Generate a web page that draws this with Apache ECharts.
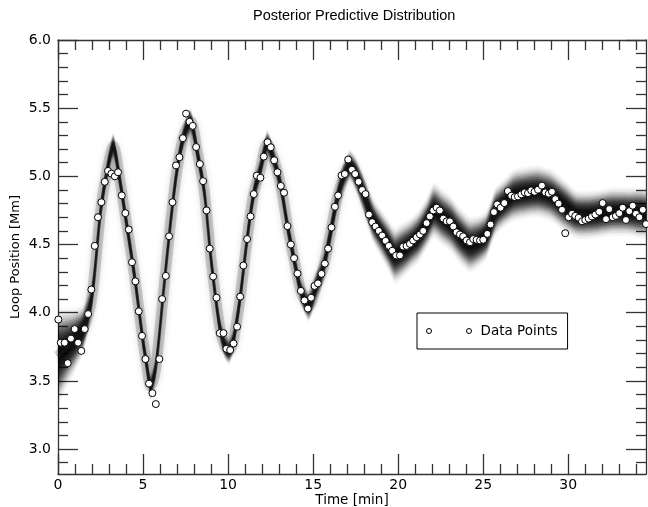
<!DOCTYPE html>
<html>
<head>
<meta charset="utf-8">
<script src="https://cdn.jsdelivr.net/npm/echarts@6/dist/echarts.min.js"></script>
<style>html,body{margin:0;padding:0;background:#fff}#c{width:648px;height:507px}</style>
</head>
<body>
<div id="c"></div>
<script>
// ---- observed data points ----
const dataTime = [0.02,0.16,0.39,0.57,0.76,0.98,1.18,1.37,1.57,1.77,1.96,2.16,2.35,2.55,2.75,2.94,3.14,3.34,3.53,3.75,3.96,4.16,4.35,4.55,4.75,4.94,5.14,5.35,5.55,5.75,5.96,6.12,6.34,6.53,6.73,6.94,7.14,7.34,7.53,7.73,7.92,8.12,8.34,8.53,8.73,8.92,9.12,9.32,9.51,9.73,9.90,10.12,10.32,10.53,10.71,10.90,11.12,11.32,11.51,11.69,11.90,12.10,12.32,12.51,12.71,12.90,13.10,13.29,13.49,13.69,13.88,14.08,14.28,14.49,14.69,14.88,15.08,15.28,15.49,15.69,15.88,16.08,16.28,16.47,16.67,16.86,17.06,17.28,17.47,17.67,17.88,18.08,18.28,18.47,18.67,18.86,19.06,19.26,19.45,19.65,19.88,20.10,20.29,20.49,20.69,20.88,21.08,21.28,21.47,21.67,21.86,22.06,22.26,22.45,22.65,22.85,23.04,23.24,23.43,23.63,23.82,24.02,24.22,24.41,24.61,24.81,25.00,25.24,25.43,25.63,25.82,26.02,26.24,26.45,26.65,26.85,27.04,27.24,27.44,27.63,27.82,28.02,28.22,28.45,28.65,28.85,29.04,29.24,29.43,29.63,29.82,30.02,30.22,30.41,30.61,30.81,31.00,31.20,31.39,31.59,31.82,32.02,32.22,32.41,32.61,32.80,33.00,33.20,33.39,33.59,33.79,33.98,34.18,34.38,34.57];
const dataPos = [3.95,3.78,3.78,3.63,3.81,3.88,3.78,3.72,3.88,3.99,4.17,4.49,4.70,4.81,4.96,5.04,5.02,5.00,5.03,4.86,4.73,4.61,4.37,4.23,4.01,3.83,3.66,3.48,3.41,3.33,3.66,4.10,4.27,4.56,4.81,5.08,5.14,5.28,5.46,5.40,5.37,5.215,5.09,4.965,4.75,4.47,4.265,4.11,3.85,3.85,3.735,3.726,3.774,3.897,4.118,4.346,4.54,4.706,4.87,5.005,4.99,5.145,5.25,5.213,5.118,5.03,4.93,4.88,4.635,4.50,4.40,4.287,4.16,4.09,4.03,4.11,4.196,4.215,4.285,4.36,4.47,4.625,4.777,4.86,5.007,5.017,5.123,5.049,5.017,4.96,4.90,4.87,4.72,4.664,4.632,4.60,4.566,4.527,4.49,4.454,4.42,4.42,4.485,4.49,4.505,4.53,4.554,4.574,4.60,4.657,4.706,4.75,4.77,4.75,4.69,4.67,4.67,4.632,4.59,4.574,4.56,4.53,4.517,4.54,4.535,4.53,4.535,4.578,4.647,4.738,4.794,4.77,4.804,4.892,4.858,4.848,4.853,4.868,4.882,4.877,4.897,4.887,4.902,4.932,4.882,4.873,4.887,4.833,4.80,4.755,4.583,4.70,4.726,4.71,4.696,4.67,4.68,4.69,4.706,4.72,4.74,4.804,4.686,4.76,4.70,4.71,4.73,4.77,4.68,4.745,4.785,4.726,4.70,4.755,4.65];

// ---- posterior predictive band: centre and spread ----
const modelTime = [0,0.5,1,1.5,2,2.5,2.9,3.25,3.6,4,4.5,5,5.2,5.45,5.75,6.2,6.6,7,7.4,7.8,8.2,8.6,9,9.5,9.8,10.05,10.3,10.7,11.1,11.5,11.9,12.3,12.7,13.1,13.5,13.9,14.3,14.75,15.2,15.6,16,16.4,16.8,17.15,17.5,18,18.5,19,19.4,19.8,20.2,20.7,21.2,21.7,22.1,22.6,23.1,23.6,24.2,24.7,25.2,25.7,26.2,26.8,27.5,28.2,29,29.8,30.5,31.5,32.5,33.5,34.57];
const modelCenter = [3.68,3.74,3.80,3.88,4.12,4.74,5.05,5.22,5.00,4.68,4.27,3.79,3.63,3.46,3.60,4.15,4.64,5.05,5.30,5.40,5.17,4.89,4.39,3.90,3.76,3.72,3.79,4.10,4.52,4.87,5.05,5.24,5.12,4.93,4.63,4.38,4.15,4.05,4.20,4.33,4.57,4.83,5.00,5.08,5.02,4.86,4.68,4.58,4.50,4.42,4.45,4.50,4.56,4.66,4.75,4.70,4.65,4.57,4.50,4.52,4.57,4.74,4.80,4.86,4.88,4.89,4.86,4.78,4.72,4.72,4.74,4.74,4.73];
const modelSpread = [0.12,0.10,0.08,0.06,0.045,0.035,0.035,0.035,0.035,0.035,0.035,0.035,0.035,0.035,0.035,0.035,0.035,0.035,0.035,0.035,0.035,0.035,0.035,0.035,0.035,0.035,0.035,0.035,0.035,0.035,0.035,0.035,0.035,0.035,0.035,0.035,0.035,0.04,0.04,0.04,0.04,0.04,0.04,0.04,0.045,0.05,0.055,0.06,0.065,0.07,0.07,0.065,0.065,0.065,0.07,0.07,0.07,0.07,0.07,0.065,0.06,0.06,0.06,0.065,0.065,0.065,0.065,0.065,0.06,0.06,0.06,0.06,0.06];

// ---- axes ----
const xTickLabels = [0,5,10,15,20,25,30];
const xMinorTicks = [1,2,3,4,6,7,8,9,11,12,13,14,16,17,18,19,21,22,23,24,26,27,28,29,31,32,33,34];
const yTickLabels = [3.0,3.5,4.0,4.5,5.0,5.5,6.0];
const yMinorTicks = [2.9,3.1,3.2,3.3,3.4,3.6,3.7,3.8,3.9,4.1,4.2,4.3,4.4,4.6,4.7,4.8,4.9,5.1,5.2,5.3,5.4,5.6,5.7,5.8,5.9];
const xMin = 0, xMax = 34.57, yMin = 2.817, yMax = 6.0;

const AX = '#333';
function xAx(pos, vals, len, labels, line) {
  return {
    type: 'value', position: pos, min: xMin, max: xMax,
    axisLine: {show: line, onZero: false, lineStyle: {color: AX, width: 1.3}},
    axisTick: {show: true, inside: true, length: len, customValues: vals, lineStyle: {color: AX, width: 1.3}},
    axisLabel: {show: labels, customValues: vals, margin: 4, color: '#000', fontFamily: 'DejaVu Sans', fontSize: 14,
      formatter: v => String(Math.round(v))},
    splitLine: {show: false}
  };
}
function yAx(pos, vals, len, labels, line) {
  return {
    type: 'value', position: pos, min: yMin, max: yMax,
    axisLine: {show: line, onZero: false, lineStyle: {color: AX, width: 1.3}},
    axisTick: {show: true, inside: true, length: len, customValues: vals, lineStyle: {color: AX, width: 1.3}},
    axisLabel: {show: labels, customValues: vals, margin: 7, color: '#000', fontFamily: 'DejaVu Sans', fontSize: 14,
      formatter: v => v.toFixed(1)},
    splitLine: {show: false}
  };
}

const xAxes = [xAx('bottom', xTickLabels, 20, true, true), xAx('bottom', xMinorTicks, 10, false, false),
               xAx('top', xTickLabels, 20, false, true), xAx('top', xMinorTicks, 10, false, false)];
xAxes[0].name = 'Time [min]';
xAxes[0].nameLocation = 'middle';
xAxes[0].nameGap = 19;
xAxes[0].nameMoveOverlap = false;
xAxes[0].nameTextStyle = {fontFamily: 'DejaVu Sans', fontSize: 13.5, color: '#000'};
const yAxes = [yAx('left', yTickLabels, 20, true, true), yAx('left', yMinorTicks, 10, false, false),
               yAx('right', yTickLabels, 20, false, true), yAx('right', yMinorTicks, 10, false, false)];
yAxes[0].name = 'Loop Position [Mm]';
yAxes[0].nameLocation = 'middle';
yAxes[0].nameGap = 36;
yAxes[0].nameMoveOverlap = false;
yAxes[0].nameTextStyle = {fontFamily: 'DejaVu Sans', fontSize: 13, color: '#000'};

// band levels (in units of spread); opacities follow a gaussian profile
const bandLevels = [];
for (let k = 3.0; k > 0.01; k -= 0.2) bandLevels.push(+k.toFixed(2));
const D0 = 2.5, STEP = 0.2;
const bandOpacity = bandLevels.map(k => {
  const d = D0 * (Math.exp(-((k - STEP) ** 2) / 2) - Math.exp(-(k * k) / 2));
  return 1 - Math.exp(-d);
});

const bandSeries = bandLevels.map((k, li) => ({
  type: 'custom', xAxisIndex: 0, yAxisIndex: 0, silent: true, clip: true, z: 1,
  data: [[modelTime[0], modelCenter[0]]],
  renderItem: function (params, api) {
    const upper = modelTime.map((t, i) => api.coord([t, modelCenter[i] + k * modelSpread[i]]));
    const lower = modelTime.map((t, i) => api.coord([t, modelCenter[i] - k * modelSpread[i]])).reverse();
    return {type: 'polygon', shape: {points: upper.concat(lower), smooth: 0.25},
            style: {fill: 'rgba(0,0,0,' + bandOpacity[li].toFixed(4) + ')'}};
  }
}));

const centreData = modelTime.map((t, i) => [t, modelCenter[i]]);

const chart = echarts.init(document.getElementById('c'), null, {renderer: 'canvas'});
chart.setOption({
  animation: false,
  backgroundColor: '#fff',
  title: {text: 'Posterior Predictive Distribution', left: 253, top: 8, padding: 0,
    textStyle: {fontFamily: 'Liberation Sans', fontSize: 14.5, fontWeight: 'normal', color: '#000'}},
  grid: {left: 58, right: 2, top: 40, bottom: 33, containLabel: false, outerBoundsMode: 'none'},
  xAxis: xAxes,
  yAxis: yAxes,
  legend: {
    data: ['Data Points'], left: 417, top: 313, padding: [11, 10, 11, 9],
    borderColor: '#000', borderWidth: 1, backgroundColor: '#fff', borderRadius: 0,
    itemWidth: 45, itemHeight: 5,
    icon: 'path://M0,5a5,5 0 1,0 10,0a5,5 0 1,0 -10,0zM80,5a5,5 0 1,0 10,0a5,5 0 1,0 -10,0z',
    itemStyle: {color: '#fff', borderColor: '#000', borderWidth: 1},
    textStyle: {fontFamily: 'DejaVu Sans', fontSize: 13.5, color: '#000', padding: [0, 0, 0, 4]}
  },
  series: bandSeries.concat([
    {type: 'line', name: 'halo', data: centreData, smooth: 0.3, symbol: 'none', silent: true, z: 2,
     lineStyle: {width: 11, color: 'rgba(0,0,0,0.16)', shadowBlur: 10, shadowColor: 'rgba(0,0,0,0.35)'}},
    {type: 'line', name: 'core', data: centreData, smooth: 0.3, symbol: 'none', silent: true, z: 3,
     lineStyle: {width: 3, color: 'rgba(25,25,25,0.6)', shadowBlur: 7, shadowColor: 'rgba(0,0,0,0.7)'}},
    {type: 'scatter', name: 'Data Points', z: 5, symbol: 'circle', symbolSize: 7,
     data: dataTime.map((t, i) => [t, dataPos[i]]),
     itemStyle: {color: '#fff', borderColor: '#000', borderWidth: 1, opacity: 1}}
  ])
});
</script>
</body>
</html>
